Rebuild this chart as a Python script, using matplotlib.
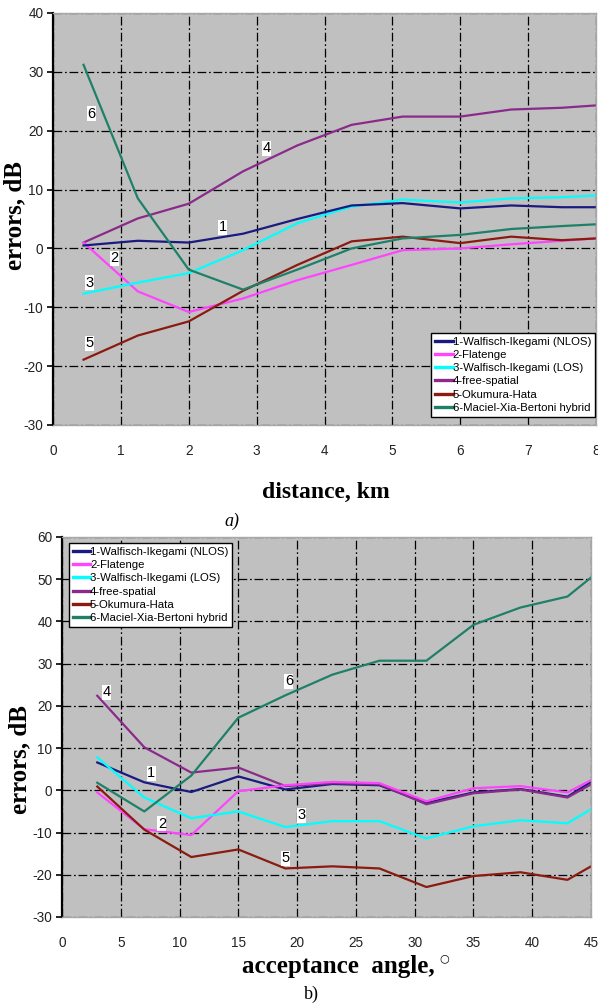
import matplotlib
matplotlib.use("Agg")
import matplotlib.pyplot as plt

plt.rcParams["axes.unicode_minus"] = False

# ---------------- data (a) ----------------
dist_km = [0.45, 1.25, 2.0, 2.8, 3.6, 4.4, 5.15, 6.0, 6.75, 7.5, 8.0]
nlos_a = [0.5, 1.3, 1.0, 2.5, 5.0, 7.3, 7.7, 6.8, 7.3, 7.0, 7.0]
flat_a = [1.0, -7.3, -10.8, -8.5, -5.4, -2.8, -0.3, 0.0, 0.7, 1.3, 1.7]
los_a = [-7.7, -5.8, -4.2, -0.3, 4.3, 7.1, 8.3, 7.8, 8.5, 8.7, 9.0]
free_a = [1.0, 5.1, 7.6, 13.1, 17.5, 21.0, 22.4, 22.4, 23.6, 23.9, 24.3]
oh_a = [-18.9, -14.8, -12.4, -7.2, -2.8, 1.2, 2.0, 0.9, 2.0, 1.4, 1.7]
mxb_a = [31.2, 8.5, -3.6, -7.0, -3.6, 0.0, 1.7, 2.3, 3.3, 3.8, 4.1]

# ---------------- data (b) ----------------
angle_deg = [3, 7, 11, 15, 19, 23, 27, 31, 35, 39, 43, 45]
nlos_b = [6.6, 1.9, -0.4, 3.3, 0.2, 1.5, 1.2, -3.0, -0.5, 0.3, -1.5, 2.0]
flat_b = [-0.5, -9.2, -10.6, -0.2, 1.2, 2.0, 1.7, -2.6, 0.5, 1.0, -0.5, 2.4]
los_b = [7.8, -1.7, -6.6, -5.0, -8.7, -7.3, -7.3, -11.4, -8.5, -7.1, -7.8, -4.5]
free_b = [22.4, 10.2, 4.2, 5.4, 1.0, 1.7, 1.4, -3.3, -0.7, 0.2, -1.7, 1.4]
oh_b = [0.9, -9.3, -15.8, -14.0, -18.5, -18.0, -18.5, -22.9, -20.3, -19.4, -21.2, -18.0]
mxb_b = [1.8, -5.0, 3.5, 17.2, 22.5, 27.4, 30.7, 30.7, 39.2, 43.3, 45.9, 50.4]

legend_names = ["1-Walfisch-Ikegami (NLOS)", "2-Flatenge", "3-Walfisch-Ikegami (LOS)",
                "4-free-spatial", "5-Okumura-Hata", "6-Maciel-Xia-Bertoni hybrid"]
colors = ["#1a1a80", "#ff44ff", "#00ffff", "#8a2a8a", "#8b1a10", "#1f8068"]

# curve number labels (position in data coords)
labels_a = {"6": (0.56, 22.9), "4": (3.15, 17.0), "1": (2.5, 3.6),
            "2": (0.91, -1.7), "3": (0.54, -5.8), "5": (0.54, -16.1)}
labels_b = {"4": (3.8, 23.2), "1": (7.6, 4.0), "6": (19.3, 25.8),
            "2": (8.5, -7.9), "3": (20.4, -5.9), "5": (19.0, -16.1)}

W, H = 598, 1008
fig = plt.figure(figsize=(W / 100, H / 100), dpi=100)

SANS = "Liberation Sans"
SERIF = "Liberation Serif"
grid_ls = (0, (7, 2.2, 1.4, 2.2))


def style_axes(ax, xlim, ylim, xticks, yticks):
    ax.set_facecolor("#c0c0c0")
    ax.set_xlim(*xlim)
    ax.set_ylim(*ylim)
    ax.set_xticks(xticks)
    ax.set_yticks(yticks)
    ax.grid(True, color="black", linestyle=grid_ls, linewidth=0.9)
    for s in ["top", "right", "bottom"]:
        ax.spines[s].set_color("#a8a8a8")
        ax.spines[s].set_linewidth(1.0)
    ax.spines["left"].set_color("black")
    ax.spines["left"].set_linewidth(1.6)
    ax.tick_params(axis="y", direction="out", length=4, width=1.2, color="black",
                   labelsize=9.8, labelcolor="#222222", pad=3)
    ax.tick_params(axis="x", length=0, labelsize=9.8, labelcolor="#222222", pad=14)
    for lab in ax.get_xticklabels() + ax.get_yticklabels():
        lab.set_fontfamily(SANS)


def draw(ax, x, series, order):
    handles = [None] * 6
    for i in order:
        h, = ax.plot(x, series[i], color=colors[i], linewidth=1.6, solid_joinstyle="round")
        handles[i] = h
    return handles


def add_labels(ax, labels):
    for txt, (lx, ly) in labels.items():
        ax.text(lx, ly, txt, fontsize=10.5, family=SANS, color="black", ha="center", va="center",
                bbox=dict(facecolor="white", edgecolor="none", pad=0.3), zorder=5)


def add_legend(ax, handles, **kw):
    from matplotlib.lines import Line2D
    hs = [Line2D([], [], color=c, linewidth=2.4) for c in colors]
    leg = ax.legend(hs, legend_names, prop={"family": SANS, "size": 8.2},
                    handlelength=1.5, handletextpad=0.0, labelspacing=0.28,
                    frameon=True, fancybox=False, borderpad=0.35, borderaxespad=0, **kw)
    leg.get_frame().set_edgecolor("black")
    leg.get_frame().set_linewidth(1.0)
    leg.get_frame().set_facecolor("white")
    leg.get_frame().set_alpha(1)
    leg.set_zorder(10)


# ---------------- panel (a) ----------------
ax1 = fig.add_axes([53 / W, 1 - 425 / H, 543 / W, 412 / H])
style_axes(ax1, (0, 8), (-30, 40), range(0, 9), range(-30, 41, 10))
series_a = [nlos_a, flat_a, los_a, free_a, oh_a, mxb_a]
h1 = draw(ax1, dist_km, series_a, [3, 1, 2, 0, 4, 5])
add_labels(ax1, labels_a)
add_legend(ax1, h1, loc="lower right", bbox_to_anchor=(0.998, 0.02))
fig.text(15 / W, 1 - 215 / H, "errors, dB", rotation=90, ha="center", va="center",
         family=SERIF, fontweight="bold", fontsize=18)
fig.text(326 / W, 1 - 492 / H, "distance, km", ha="center", va="center",
         family=SERIF, fontweight="bold", fontsize=17)
fig.text(232 / W, 1 - 521 / H, "a)", ha="center", va="center",
         family=SERIF, style="italic", fontsize=13)

# ---------------- panel (b) ----------------
ax2 = fig.add_axes([62 / W, 1 - 917 / H, 529 / W, 380 / H])
style_axes(ax2, (0, 45), (-30, 60), range(0, 46, 5), range(-30, 61, 10))
series_b = [nlos_b, flat_b, los_b, free_b, oh_b, mxb_b]
h2 = draw(ax2, angle_deg, series_b, [0, 3, 1, 2, 4, 5])
add_labels(ax2, labels_b)
add_legend(ax2, h2, loc="upper left", bbox_to_anchor=(0.013, 0.984))
fig.text(20 / W, 1 - 760 / H, "errors, dB", rotation=90, ha="center", va="center",
         family=SERIF, fontweight="bold", fontsize=18)
fig.text(338 / W, 1 - 966 / H, "acceptance  angle,", ha="center", va="center",
         family=SERIF, fontweight="bold", fontsize=18)
fig.text(444 / W, 1 - 958 / H, "○", ha="center", va="center",
         family="DejaVu Sans", fontsize=8)
fig.text(311 / W, 1 - 994 / H, "b)", ha="center", va="center",
         family=SERIF, fontsize=13)

fig.savefig("out.png", dpi=100)
